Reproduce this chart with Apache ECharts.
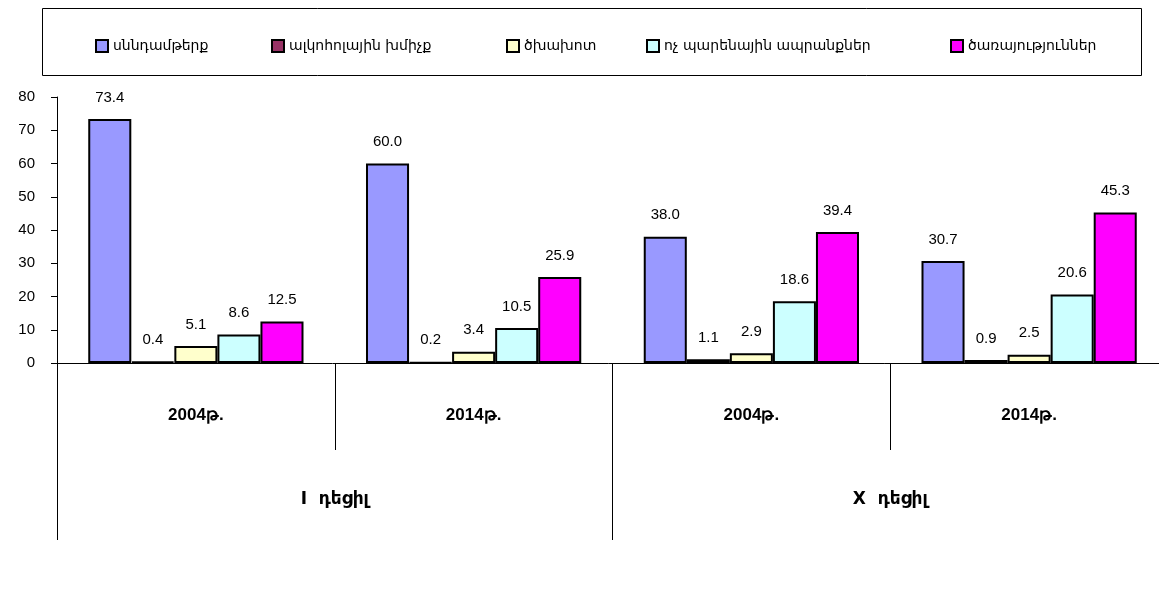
<!DOCTYPE html>
<html>
<head>
<meta charset="utf-8">
<script src="https://cdn.jsdelivr.net/npm/echarts@6/dist/echarts.min.js"></script>
<style>
  html, body { margin: 0; padding: 0; background: #fff; }
  #chart { width: 1159px; height: 599px; }
</style>
</head>
<body>
<div id="chart"></div>
<script>
// data
const years = ['2004թ.', '2014թ.', '2004թ.', '2014թ.'];
const deciles = ['I  դեցիլ', 'X  դեցիլ'];
const seriesNames = ['սննդամթերք', 'ալկոհոլային խմիչք', 'ծխախոտ', 'ոչ պարենային ապրանքներ', 'ծառայություններ'];
const food = [73.4, 60.0, 38.0, 30.7];
const alcohol = [0.4, 0.2, 1.1, 0.9];
const tobacco = [5.1, 3.4, 2.9, 2.5];
const nonFood = [8.6, 10.5, 18.6, 20.6];
const services = [12.5, 25.9, 39.4, 45.3];
const yTicks = [0, 10, 20, 30, 40, 50, 60, 70, 80];

const values = [food, alcohol, tobacco, nonFood, services];
const colors = ['#9999FF', '#993366', '#FFFFCC', '#CCFFFF', '#FF00FF'];
const legendLeft = [90, 266, 501, 641, 945];

const chart = echarts.init(document.getElementById('chart'));
const font = 'Arial, "Liberation Sans", sans-serif';
const armFont = '"DejaVu Sans", "Noto Sans", sans-serif';

chart.setOption({
  animation: false,
  graphic: [{
    type: 'rect',
    left: 42, top: 8,
    shape: { width: 1099, height: 67 },
    style: { fill: '#fff', stroke: '#000', lineWidth: 1 },
    z: -1
  }],
  legend: seriesNames.map((n, i) => ({
    data: [n],
    left: legendLeft[i],
    top: 34,
    itemWidth: 12,
    itemHeight: 12,
    itemGap: 4,
    icon: 'rect',
    textStyle: { fontFamily: armFont, fontSize: 14, color: '#000' }
  })),
  grid: { left: 57, top: 97, width: 1111, height: 266, outerBoundsMode: 'none' },
  xAxis: [
    {
      type: 'category',
      data: years,
      axisLine: { show: true, lineStyle: { color: '#000', width: 1 } },
      axisTick: { show: true, interval: 0, length: 87, lineStyle: { color: '#000' } },
      axisLabel: {
        interval: 0, margin: 44, color: '#000',
        fontSize: 17, fontWeight: 'bold', fontFamily: font
      }
    },
    {
      type: 'category',
      data: deciles,
      position: 'bottom',
      axisLine: { show: false },
      axisTick: { show: true, interval: 0, length: 177, lineStyle: { color: '#000' } },
      axisLabel: {
        interval: 0, margin: 128, color: '#000',
        fontSize: 17, fontWeight: 'bold', fontFamily: armFont
      }
    }
  ],
  yAxis: {
    type: 'value',
    min: yTicks[0],
    max: yTicks[yTicks.length - 1],
    interval: 10,
    axisLine: { show: true, lineStyle: { color: '#000' } },
    axisTick: { show: true, length: 6, lineStyle: { color: '#000' } },
    splitLine: { show: false },
    axisLabel: { color: '#000', fontSize: 15, fontFamily: font, margin: 22 }
  },
  series: seriesNames.map((n, i) => ({
    name: n,
    type: 'bar',
    xAxisIndex: 0,
    data: values[i],
    barGap: '0%',
    barCategoryGap: '22.5%',
    itemStyle: { color: colors[i], borderColor: '#000', borderWidth: 2 },
    label: {
      show: true,
      position: 'top',
      distance: 14,
      color: '#000',
      fontSize: 15,
      fontFamily: font,
      formatter: p => p.value.toFixed(1)
    }
  }))
});
</script>
</body>
</html>
